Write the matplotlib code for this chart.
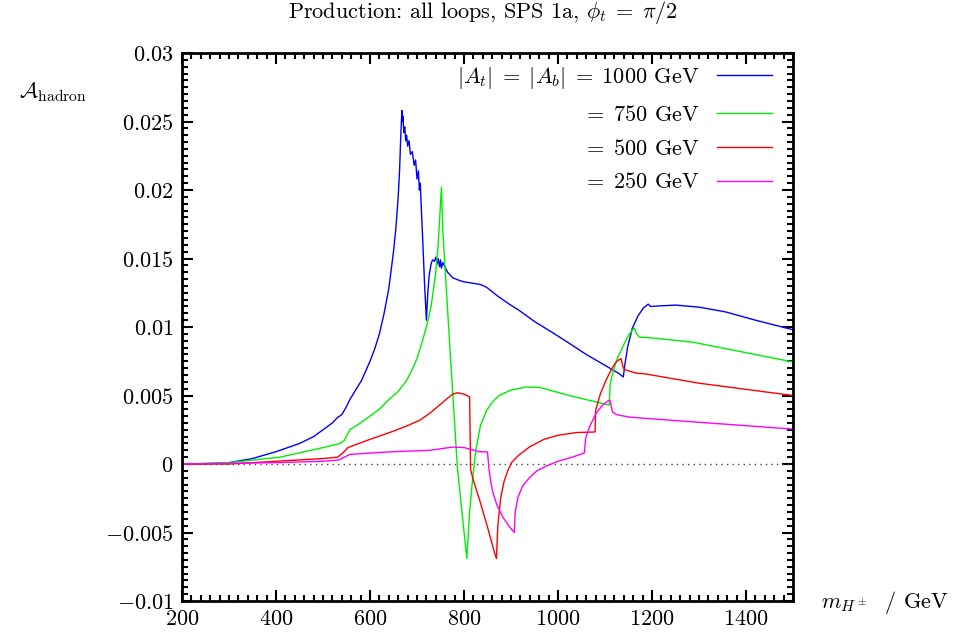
import numpy as np
import matplotlib
matplotlib.use('Agg')
import matplotlib.pyplot as plt
from matplotlib.ticker import MultipleLocator, FuncFormatter

plt.rcParams['mathtext.fontset'] = 'cm'
plt.rcParams['font.family'] = 'cmr10'
plt.rcParams['axes.unicode_minus'] = False

# A_hadron vs m_H+ for four |A_t| = |A_b| values
m_1000 = [200, 250, 300, 350, 400, 450, 480, 500, 520, 531, 540, 550, 557, 582, 600, 610, 620,
          630, 640, 650, 655, 660, 663, 665, 667, 668, 669, 670, 672, 674, 676, 678, 680, 683,
          686, 690, 694, 697, 700, 703, 705, 707, 709, 712, 716, 720, 723, 726, 730, 733, 737,
          740, 743, 745, 748, 750, 752, 755, 765, 776, 790, 800, 818, 835, 848, 870, 895, 918,
          950, 988, 1020, 1060, 1100, 1130, 1139, 1142, 1148, 1158, 1170, 1182, 1192, 1197,
          1220, 1251, 1300, 1357, 1420, 1500]
a_1000 = [0.0, 0.00003, 0.0001, 0.0004, 0.0009, 0.0015, 0.002, 0.0025, 0.0030, 0.0034, 0.0036,
          0.0042, 0.0047, 0.0061, 0.0075, 0.0084, 0.0095, 0.0110, 0.0128, 0.0155, 0.0172,
          0.0195, 0.0215, 0.0235, 0.0252, 0.0258, 0.0250, 0.0254, 0.0242, 0.0246, 0.0236,
          0.0240, 0.0232, 0.0236, 0.0226, 0.0228, 0.0218, 0.0222, 0.0208, 0.0214, 0.0200,
          0.0205, 0.0188, 0.0165, 0.0132, 0.0105, 0.0125, 0.0138, 0.0146, 0.0149, 0.0148,
          0.0151, 0.0146, 0.0150, 0.0144, 0.0149, 0.0143, 0.0147, 0.0140, 0.0136, 0.0134,
          0.0133, 0.0132, 0.0131, 0.0129, 0.0123, 0.0117, 0.0112, 0.0104, 0.0096, 0.0089,
          0.0080, 0.0072, 0.0066, 0.00635, 0.0072, 0.0085, 0.0099, 0.0108, 0.0114, 0.01167,
          0.0115, 0.01155, 0.0116, 0.01145, 0.0111, 0.0105, 0.0098]

m_750 = [200, 300, 408, 500, 536, 545, 557, 580, 600, 620, 640, 660, 678, 690, 700, 710, 720,
         730, 740, 745, 750, 752, 755, 770, 786, 806, 812, 818, 825, 835, 848, 860, 875, 900,
         933, 960, 1024, 1109, 1111, 1116, 1125, 1137, 1150, 1162, 1167, 1173, 1200, 1286, 1500]
a_750 = [0.0, 0.0001, 0.0005, 0.0012, 0.0015, 0.0017, 0.0025, 0.0030, 0.0035, 0.0040, 0.0047,
         0.0053, 0.0061, 0.0069, 0.0077, 0.0088, 0.0100, 0.0115, 0.0140, 0.0160, 0.0190,
         0.0202, 0.0170, 0.0085, -0.0003, -0.0069, -0.0035, -0.0012, 0.0010, 0.0028, 0.0039,
         0.0045, 0.0050, 0.0054, 0.00562, 0.0056, 0.0050, 0.0043, 0.0058, 0.0066, 0.0076,
         0.0085, 0.0094, 0.00993, 0.0095, 0.00927, 0.0092, 0.0089, 0.00745]

m_500 = [200, 300, 400, 500, 531, 545, 553, 600, 650, 680, 706, 727, 748, 765, 776, 786, 800,
         812, 814, 820, 833, 850, 866, 869, 872, 878, 885, 893, 901, 915, 939, 970, 1000, 1040,
         1079, 1080, 1090, 1102, 1115, 1125, 1134, 1139, 1145, 1166, 1187, 1300, 1500]
a_500 = [0.0, 0.0, 0.0002, 0.0004, 0.0005, 0.0009, 0.0012, 0.0018, 0.0024, 0.0028, 0.0032,
         0.0037, 0.0043, 0.0048, 0.0051, 0.0052, 0.0051, 0.0049, -0.0004, -0.0012, -0.0026,
         -0.0046, -0.0066, -0.0069, -0.0045, -0.0025, -0.0013, -0.0005, 0.0001, 0.0006,
         0.00124, 0.0018, 0.0021, 0.0023, 0.00234, 0.0039, 0.0051, 0.0061, 0.0070, 0.0075,
         0.0077, 0.0070, 0.00685, 0.00664, 0.00657, 0.0059, 0.0050]

m_250 = [200, 400, 500, 534, 557, 600, 650, 727, 776, 800, 833, 850, 853, 857, 861, 870, 883,
         895, 907, 909, 915, 925, 939, 955, 975, 1000, 1030, 1056, 1059, 1067, 1081, 1095, 1109,
         1111, 1116, 1125, 1151, 1179, 1500]
a_250 = [0.0, 0.0001, 0.0002, 0.0003, 0.0007, 0.0008, 0.0009, 0.0010, 0.00124, 0.0012, 0.0009,
         0.00088, -0.0003, -0.0013, -0.0020, -0.0030, -0.0039, -0.0045, -0.0050, -0.0035,
         -0.0024, -0.0016, -0.0010, -0.0005, -0.00015, 0.0002, 0.0005, 0.0008, 0.0019, 0.0027,
         0.0037, 0.0043, 0.00467, 0.0046, 0.0038, 0.0036, 0.00343, 0.00335, 0.00255]

labels = [r'$|A_t|\;=\;|A_b|\;=\;1000$ GeV', r'$=\;750$ GeV',
          r'$=\;500$ GeV', r'$=\;250$ GeV']
colors = ['#0000ff', '#00ee00', '#ff0000', '#ff00ff']

fig = plt.figure(figsize=(9.62, 6.34), dpi=100)
ax = fig.add_axes([0.1892, 0.052, 0.6351, 0.8644])

ax.axhline(0, color='#444444', lw=1.0, ls=(0, (1, 3)))
for m, a, lab, c in zip([m_1000, m_750, m_500, m_250], [a_1000, a_750, a_500, a_250], labels, colors):
    ax.plot(m, a, color=c, lw=1.0, label=lab)

ax.set_xlim(200, 1500)
ax.set_ylim(-0.01, 0.03)
ax.xaxis.set_major_locator(MultipleLocator(200))
ax.xaxis.set_minor_locator(MultipleLocator(20))
ax.yaxis.set_major_locator(MultipleLocator(0.005))
ax.yaxis.set_minor_locator(MultipleLocator(0.0005))
fmt = FuncFormatter(lambda v, p: '$%g$' % round(v, 6))
ax.xaxis.set_major_formatter(fmt)
ax.yaxis.set_major_formatter(fmt)
ax.tick_params(which='both', direction='in', top=True, right=True, width=1.5, labelsize=16)
ax.tick_params(which='major', length=8, pad=6)
ax.tick_params(which='minor', length=4)
for s in ax.spines.values():
    s.set_linewidth(2)

leg = ax.legend(loc='upper right', bbox_to_anchor=(0.966, 0.978), frameon=False, markerfirst=False,
                fontsize=16, handlelength=2.5, labelspacing=0.62, handletextpad=0.77,
                borderpad=0, borderaxespad=0)
for t in leg.get_texts():
    t.set_ha('right')
leg._legend_box.align = 'right'

fig.text(0.502, 0.981, r'Production: all loops, SPS 1a, $\phi_t\;=\;\pi/2$', ha='center', va='center', fontsize=16)
fig.text(0.055, 0.855, r'$\mathcal{A}_\mathrm{hadron}$', ha='center', va='center', fontsize=16)
fig.text(0.92, 0.049, r'$m_{H^\pm}$  / GeV', ha='center', va='center', fontsize=16)

fig.savefig('out.png', dpi=100)
